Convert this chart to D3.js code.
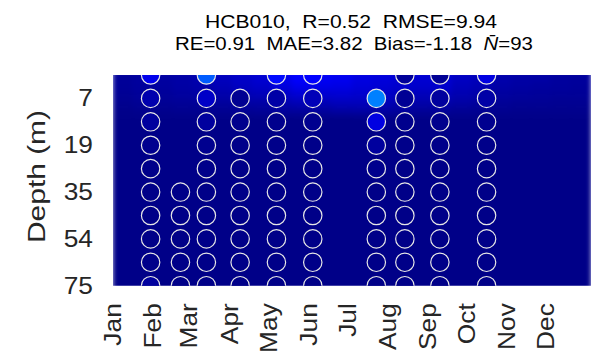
<!DOCTYPE html>
<html><head><meta charset="utf-8">
<script src="https://cdn.jsdelivr.net/npm/d3@7"></script>
<style>
body{margin:0;background:#fff;}
svg{display:block;font-family:"Liberation Sans",Arial,sans-serif;}
</style></head>
<body>
<svg id="chart" width="591" height="357"></svg>
<script>
// ---- data ----
const titleLine1 = "HCB010,  R=0.52  RMSE=9.94";
const titleLine2 = "RE=0.91  MAE=3.82  Bias=-1.18  ";
const nMean = "93";
const monthLabels = ["Jan","Feb","Mar","Apr","May","Jun","Jul","Aug","Sep","Oct","Nov","Dec"];
const monthStarts = [1, 32, 60, 91, 121, 152, 182, 213, 244, 274, 305, 335];
const depths = [1, 7, 13, 19, 27, 35, 44, 54, 64, 75];
const depthTicks = [7, 19, 35, 54, 75];
const yLabel = "Depth (m)";
const colorMax = 40;

// observation sampling days (day of year)
const obsDays = [30, 53, 73, 99, 127, 155, 204, 226, 253, 289];
// observed values per sampling day, top to bottom (null = no sample)
const obs0 = [4.2, 1.8, 1.2, 0.6, 0.4, 0.3, 0.3, 0.3, 0.4, 1.2];
const obs1 = [null, null, null, null, null, 0.3, 0.3, 0.3, 0.3, 0.3];
const obs2 = [8.6, 2.8, 1.2, 0.6, 0.4, 0.3, 0.3, 0.3, 0.3, 0.3];
const obs3 = [null, 0.7, 0.5, 0.4, 0.3, 0.3, 0.3, 0.3, 0.3, 0.3];
const obs4 = [5.4, 1.5, 0.5, 0.4, 0.3, 0.3, 0.3, 0.3, 0.3, 0.3];
const obs5 = [5.0, 2.2, 0.6, 0.4, 0.3, 0.3, 0.3, 0.3, 0.3, 0.3];
const obs6 = [null, 10, 3.8, 1.2, 0.5, 0.3, 0.3, 0.3, 0.3, 0.3];
const obs7 = [1.0, 0.8, 0.5, 0.4, 0.3, 0.3, 0.3, 0.3, 0.3, 0.3];
const obs8 = [0.8, 1.2, 0.5, 0.4, 0.3, 0.3, 0.3, 0.3, 0.3, 0.3];
const obs9 = [3.8, 1.5, 0.6, 0.4, 0.3, 0.3, 0.3, 0.3, 0.3, 0.3];
const obsValues = [obs0, obs1, obs2, obs3, obs4, obs5, obs6, obs7, obs8, obs9];

// modelled field: layers near the surface (row-index edges), 24 half-month bins
const fieldLayerEdges = [0, 0.33, 0.67, 1.0, 1.33, 1.67, 9.5];
const field0 = [1.0,1.2,1.3,1.5,1.8,2.4,2.8,3.2,4.2,5.0,4.6,4.4,3.8,3.6,3.3,3.2,3.4,2.6,2.3,1.7,1.5,1.4,1.2,1.1];
const field1 = [0.9,1.1,1.2,1.4,1.6,2.1,2.5,2.8,3.6,4.2,4.0,3.9,3.5,3.3,3.0,2.9,3.0,2.3,2.0,1.5,1.3,1.2,1.1,1.0];
const field2 = [0.8,1.0,1.0,1.2,1.4,1.7,2.0,2.2,2.8,3.2,3.1,3.2,3.0,2.8,2.5,2.3,2.4,1.9,1.6,1.2,1.1,1.0,0.9,0.9];
const field3 = [0.6,0.8,0.8,0.9,1.0,1.2,1.4,1.5,1.9,2.2,2.2,2.4,2.4,2.2,1.9,1.7,1.7,1.4,1.2,0.9,0.8,0.8,0.7,0.7];
const field4 = [0.4,0.5,0.5,0.6,0.6,0.7,0.8,0.9,1.1,1.2,1.2,1.4,1.5,1.4,1.2,1.0,1.0,0.8,0.7,0.6,0.5,0.5,0.5,0.5];
const field5 = [0.3,0.3,0.3,0.3,0.3,0.3,0.3,0.3,0.3,0.3,0.3,0.3,0.3,0.3,0.3,0.3,0.3,0.3,0.3,0.3,0.3,0.3,0.3,0.3];
const fieldLayers = [field0, field1, field2, field3, field4, field5];

// ---- layout ----
const svg = d3.select("#chart");
const L = 113, R = 591, T = 75, B = 285.7;
const dayStart = 1, dayEnd = 369.5;
const stretch = 1.12; // reference glyphs are wider than Liberation Sans
const keepSpaces = s => s.replace(/ /g, "\u00A0");

const x = d3.scaleLinear().domain([dayStart, dayEnd]).range([L, R]);
const yRow = d3.scaleLinear().domain([0, depths.length - 1]).range([T, B]);
const yDepth = d3.scalePoint().domain(depths).range([T, B]).padding(0);
const jet = d3.scaleLinear()
  .domain([0, 0.125, 0.375, 0.625, 0.875, 1].map(t => t * colorMax))
  .range(["#000080", "#0000ff", "#00ffff", "#ffff00", "#ff0000", "#800000"])
  .clamp(true);

const defs = svg.append("defs");
defs.append("clipPath").attr("id", "plotclip")
  .append("rect").attr("x", L).attr("y", T).attr("width", R - L).attr("height", B - T);
const f = defs.append("filter").attr("id", "soft")
  .attr("x", "-5%").attr("y", "-5%").attr("width", "110%").attr("height", "110%");
f.append("feGaussianBlur").attr("stdDeviation", "2.5 3").attr("edgeMode", "duplicate");

// field
const nBins = field0.length;
const binW = (dayEnd - dayStart) / nBins;
const fieldG = svg.append("g").attr("clip-path", "url(#plotclip)")
  .append("g").attr("filter", "url(#soft)");
fieldLayers.forEach((layer, li) => {
  const y0 = yRow(fieldLayerEdges[li]);
  const y1 = yRow(fieldLayerEdges[li + 1]);
  fieldG.selectAll(null).data(layer).enter().append("rect")
    .attr("x", (d, i) => x(dayStart + i * binW) - 0.5)
    .attr("width", x(dayStart + binW) - x(dayStart) + 1)
    .attr("y", y0 - (li === 0 ? 6 : 0))
    .attr("height", y1 - y0 + (li === 0 ? 6 : 0) + (li === fieldLayers.length - 1 ? 6 : 0.5))
    .attr("fill", d => jet(d));
});

// observations
const circles = [];
obsValues.forEach((col, ci) => col.forEach((v, ri) => {
  if (v !== null) circles.push({day: obsDays[ci], depth: depths[ri], v});
}));
svg.append("g").attr("clip-path", "url(#plotclip)")
  .selectAll("circle").data(circles).enter().append("circle")
  .attr("cx", d => x(d.day))
  .attr("cy", d => yDepth(d.depth))
  .attr("r", 9.2)
  .attr("fill", d => jet(d.v))
  .attr("stroke", "#e6e6e6")
  .attr("stroke-width", 1.2);

// x axis (months)
const xAxis = d3.axisBottom(x).tickValues(monthStarts)
  .tickFormat((d, i) => monthLabels[i]).tickSize(0).tickPadding(0);
const gx = svg.append("g").attr("transform", `translate(0,${B})`).call(xAxis);
gx.select(".domain").remove();
gx.selectAll("text")
  .attr("transform", `translate(-1,17.5) rotate(-90) scale(${stretch},1)`)
  .attr("text-anchor", "end")
  .attr("x", 0).attr("y", 0).attr("dy", "0.36em")
  .attr("font-size", 23.5)
  .attr("font-family", "Liberation Sans, Arial, sans-serif")
  .attr("fill", "#262626");

// y axis
const yAxis = d3.axisLeft(yDepth).tickValues(depthTicks).tickSize(0).tickPadding(20);
const gy = svg.append("g").attr("transform", `translate(${L},0)`).call(yAxis);
gy.select(".domain").remove();
gy.selectAll("text")
  .attr("x", 0)
  .attr("transform", `translate(-20,0) scale(${stretch},1)`)
  .attr("font-size", 23.5)
  .attr("font-family", "Liberation Sans, Arial, sans-serif")
  .attr("fill", "#262626");

svg.append("text")
  .attr("transform", `translate(44.5,176.5) rotate(-90)`)
  .attr("text-anchor", "middle")
  .attr("font-size", 23.5)
  .attr("textLength", 133)
  .attr("lengthAdjust", "spacingAndGlyphs")
  .attr("fill", "#262626")
  .text(yLabel);

// title
const title = svg.append("g").attr("font-size", 18.5).attr("fill", "#000")
  .attr("text-anchor", "middle");
title.append("text").attr("x", 351).attr("y", 28.3)
  .attr("textLength", 292).attr("lengthAdjust", "spacingAndGlyphs")
  .text(keepSpaces(titleLine1));
const t2 = title.append("text").attr("x", 354).attr("y", 49.5)
  .attr("textLength", 358).attr("lengthAdjust", "spacingAndGlyphs");
t2.append("tspan").text(keepSpaces(titleLine2));
t2.append("tspan").attr("font-style", "italic").text("N\u0304");
t2.append("tspan").text("=" + nMean);
</script>
</body></html>
